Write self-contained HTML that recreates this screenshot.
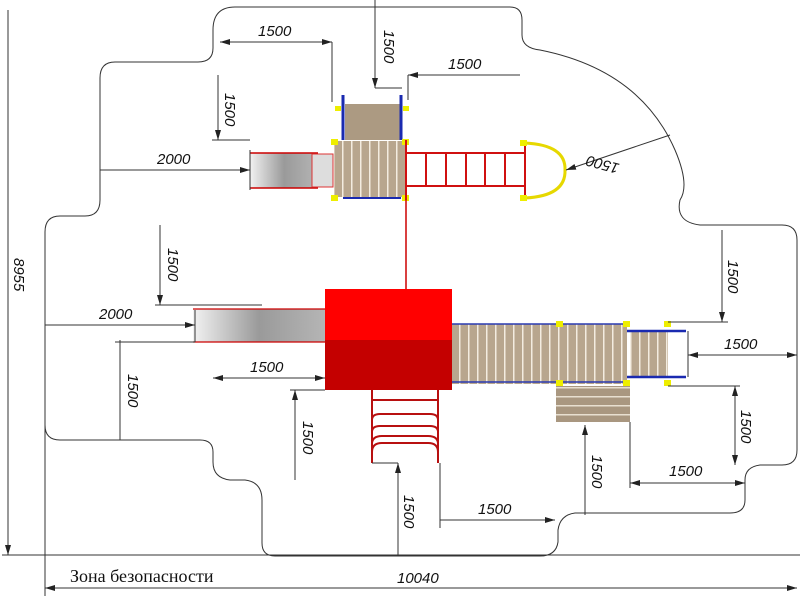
<!DOCTYPE html>
<html><head><meta charset="utf-8"><style>
html,body{margin:0;padding:0;background:#fff;}
svg{display:block;}
.d{stroke:#333;stroke-width:1;fill:none;}
.t{font-family:"Liberation Sans",sans-serif;font-style:italic;font-size:15px;fill:#111;}
</style></head><body>
<svg width="800" height="600" viewBox="0 0 800 600" xmlns="http://www.w3.org/2000/svg">
<defs>
<marker id="a" markerWidth="10" markerHeight="6" refX="10" refY="3" orient="auto-start-reverse" markerUnits="userSpaceOnUse"><path d="M0,0 L10,3 L0,6z" fill="#222"/></marker>
<linearGradient id="sl" x1="0" x2="1"><stop offset="0" stop-color="#f2f2f2"/><stop offset="0.5" stop-color="#9a9a9a"/><stop offset="1" stop-color="#b5b5b5"/></linearGradient>
<pattern id="pl" width="9" height="10" patternUnits="userSpaceOnUse"><rect width="9" height="10" fill="#b8a68e"/><rect width="1.5" height="10" fill="#f3ece0"/></pattern>
<pattern id="pl2" width="10" height="9" patternUnits="userSpaceOnUse"><rect width="10" height="9" fill="#a99780"/><rect width="10" height="1.5" fill="#e8dfd0"/></pattern>
</defs>
<path class="d" stroke="#555" d="M235,7 L510,7 Q522,7 522,20 L522,35 Q522,48 540,50 Q640,70 675,150 Q690,185 680,200 Q675,222 700,225 L782,225 Q797,225 797,240 L797,450 Q797,465 782,465 L760,465 Q745,467 745,480 L745,500 Q745,513 730,513 L575,513 Q560,515 558,530 L558,542 Q556,556 540,556 L275,556 Q262,556 262,543 L262,500 Q262,482 245,480 L230,480 Q213,478 213,462 L213,452 Q213,440 200,440 L60,440 Q45,440 45,425 L45,232 Q45,216 60,216 L85,216 Q100,216 100,200 L100,78 Q100,62 115,62 L198,62 Q213,62 213,48 L213,30 Q213,7 235,7 Z"/>
<rect x="250" y="153" width="68" height="35" fill="url(#sl)"/>
<line x1="250" y1="153" x2="318" y2="153" stroke="#c00" stroke-width="1.5"/>
<line x1="250" y1="188" x2="318" y2="188" stroke="#c00" stroke-width="1.5"/>
<rect x="312" y="154" width="21" height="33" fill="#ddd" stroke="#d33"/>
<rect x="345" y="104" width="57" height="36" fill="#ac9a82"/>
<line x1="343" y1="95" x2="343" y2="140" stroke="#1a2ab0" stroke-width="3"/>
<line x1="401" y1="95" x2="401" y2="140" stroke="#1a2ab0" stroke-width="3"/>
<rect x="335" y="106" width="6" height="5" fill="#ee0"/><rect x="403" y="106" width="6" height="5" fill="#ee0"/>
<rect x="334" y="141" width="71" height="56" fill="url(#pl)"/>
<line x1="343" y1="198" x2="401" y2="198" stroke="#1a2ab0" stroke-width="2"/>
<rect x="331" y="139" width="7" height="6" fill="#ee0"/><rect x="402" y="139" width="7" height="6" fill="#ee0"/>
<rect x="331" y="195" width="7" height="6" fill="#ee0"/><rect x="402" y="195" width="7" height="6" fill="#ee0"/>
<g stroke="#d01010" stroke-width="2" fill="none">
<line x1="405" y1="153" x2="525" y2="153"/><line x1="405" y1="186" x2="525" y2="186"/>
<line x1="406" y1="140" x2="406" y2="200"/>
<line x1="426" y1="153" x2="426" y2="186"/><line x1="446" y1="153" x2="446" y2="186"/><line x1="466" y1="153" x2="466" y2="186"/><line x1="485" y1="153" x2="485" y2="186"/><line x1="505" y1="153" x2="505" y2="186"/>
<line x1="525" y1="142" x2="525" y2="198"/>
</g>
<path d="M525,143 Q566,145 565,170 Q566,196 525,198" fill="none" stroke="#e6d800" stroke-width="3"/>
<rect x="520" y="140" width="7" height="6" fill="#ee0"/><rect x="520" y="195" width="7" height="6" fill="#ee0"/>
<line x1="406" y1="200" x2="406" y2="290" stroke="#c00" stroke-width="1.5"/>
<rect x="193" y="309" width="132" height="33" fill="url(#sl)"/>
<line x1="193" y1="309" x2="325" y2="309" stroke="#c00" stroke-width="1.2"/>
<line x1="193" y1="342" x2="325" y2="342" stroke="#c00" stroke-width="1.2"/>
<rect x="325" y="289" width="127" height="52" fill="#ff0000"/>
<rect x="325" y="340" width="127" height="50" fill="#c40000"/>
<rect x="452" y="324" width="105" height="60" fill="url(#pl)"/>
<rect x="557" y="324" width="70" height="60" fill="url(#pl)"/>
<line x1="452" y1="324" x2="627" y2="324" stroke="#2a3ab0" stroke-width="1.5"/>
<line x1="452" y1="382" x2="627" y2="382" stroke="#2a3ab0" stroke-width="1.5"/>
<rect x="630" y="331" width="38" height="46" fill="url(#pl)"/>
<line x1="627" y1="331" x2="686" y2="331" stroke="#1a2ab0" stroke-width="2.5"/>
<line x1="627" y1="377" x2="686" y2="377" stroke="#1a2ab0" stroke-width="2.5"/>
<rect x="556" y="321" width="7" height="6" fill="#ee0"/><rect x="623" y="321" width="7" height="6" fill="#ee0"/><rect x="664" y="321" width="7" height="6" fill="#ee0"/>
<rect x="556" y="380" width="7" height="6" fill="#ee0"/><rect x="623" y="380" width="7" height="6" fill="#ee0"/><rect x="664" y="380" width="7" height="6" fill="#ee0"/>
<rect x="556" y="386" width="74" height="36" fill="url(#pl2)"/>
<g stroke="#b81010" stroke-width="2" fill="none">
<line x1="372" y1="390" x2="372" y2="463"/><line x1="438" y1="390" x2="438" y2="463"/>
<line x1="372" y1="400" x2="438" y2="400"/>
<path d="M372,420 Q372,414 380,414 L430,414 Q438,414 438,420"/>
<path d="M372,432 Q372,426 380,426 L430,426 Q438,426 438,432"/>
<path d="M372,444 Q372,436 382,436 L428,436 Q438,436 438,444"/>
<path d="M372,452 Q372,443 382,443 L428,443 Q438,443 438,452"/>
</g>
<g class="d">
<line x1="220" y1="42" x2="332" y2="42" marker-start="url(#a)" marker-end="url(#a)"/><line x1="332" y1="42" x2="332" y2="102"/>
<line x1="375" y1="0" x2="375" y2="88" marker-end="url(#a)"/><line x1="375" y1="88" x2="402" y2="88"/>
<line x1="408" y1="75" x2="520" y2="75" marker-start="url(#a)"/><line x1="408" y1="75" x2="408" y2="100"/>
<line x1="218" y1="75" x2="218" y2="140" marker-end="url(#a)"/><line x1="212" y1="140" x2="250" y2="140"/>
<line x1="100" y1="170" x2="250" y2="170" marker-end="url(#a)"/><line x1="250" y1="150" x2="250" y2="190"/>
<line x1="670" y1="135" x2="566" y2="170" marker-end="url(#a)"/>
<line x1="8" y1="10" x2="8" y2="555" marker-end="url(#a)"/><line x1="2" y1="555" x2="800" y2="555"/>
<line x1="160" y1="225" x2="160" y2="305" marker-end="url(#a)"/><line x1="155" y1="305" x2="262" y2="305"/>
<line x1="45" y1="325" x2="195" y2="325" marker-end="url(#a)"/><line x1="195" y1="310" x2="195" y2="342"/>
<line x1="120" y1="340" x2="120" y2="440"/><line x1="115" y1="342" x2="195" y2="342"/>
<line x1="213" y1="378" x2="325" y2="378" marker-start="url(#a)" marker-end="url(#a)"/>
<line x1="295" y1="390" x2="295" y2="480" marker-start="url(#a)"/><line x1="290" y1="390" x2="325" y2="390"/>
<line x1="398" y1="463" x2="398" y2="555" marker-start="url(#a)"/><line x1="372" y1="463" x2="398" y2="463"/>
<line x1="440" y1="520" x2="555" y2="520" marker-end="url(#a)"/><line x1="440" y1="463" x2="440" y2="528"/>
<line x1="585" y1="425" x2="585" y2="515" marker-start="url(#a)"/>
<line x1="630" y1="483" x2="745" y2="483" marker-start="url(#a)" marker-end="url(#a)"/><line x1="630" y1="422" x2="630" y2="488"/>
<line x1="722" y1="230" x2="722" y2="322" marker-end="url(#a)"/><line x1="668" y1="322" x2="728" y2="322"/>
<line x1="688" y1="355" x2="797" y2="355" marker-start="url(#a)" marker-end="url(#a)"/><line x1="688" y1="331" x2="688" y2="377"/>
<line x1="735" y1="386" x2="735" y2="465" marker-start="url(#a)" marker-end="url(#a)"/><line x1="668" y1="386" x2="740" y2="386"/>
<line x1="45" y1="588" x2="797" y2="588" marker-start="url(#a)" marker-end="url(#a)"/><line x1="45" y1="325" x2="45" y2="596"/>
</g>
<g class="t">
<text x="258" y="36">1500</text>
<text x="448" y="69">1500</text>
<text transform="translate(384,30) rotate(90)">1500</text>
<text transform="translate(225,93) rotate(90)">1500</text>
<text x="157" y="164">2000</text>
<text transform="translate(620,164) rotate(195)">1500</text>
<text transform="translate(14,258) rotate(90)">8955</text>
<text transform="translate(168,248) rotate(90)">1500</text>
<text x="99" y="319">2000</text>
<text transform="translate(128,374) rotate(90)">1500</text>
<text x="250" y="372">1500</text>
<text transform="translate(303,421) rotate(90)">1500</text>
<text transform="translate(404,495) rotate(90)">1500</text>
<text x="478" y="514">1500</text>
<text transform="translate(592,455) rotate(90)">1500</text>
<text x="669" y="476">1500</text>
<text transform="translate(728,260) rotate(90)">1500</text>
<text x="724" y="349">1500</text>
<text transform="translate(741,410) rotate(90)">1500</text>
<text x="397" y="583">10040</text>
</g>
<text x="70" y="582" font-family="'Liberation Serif',serif" font-size="18" fill="#111">Зона безопасности</text>
</svg>
</body></html>
